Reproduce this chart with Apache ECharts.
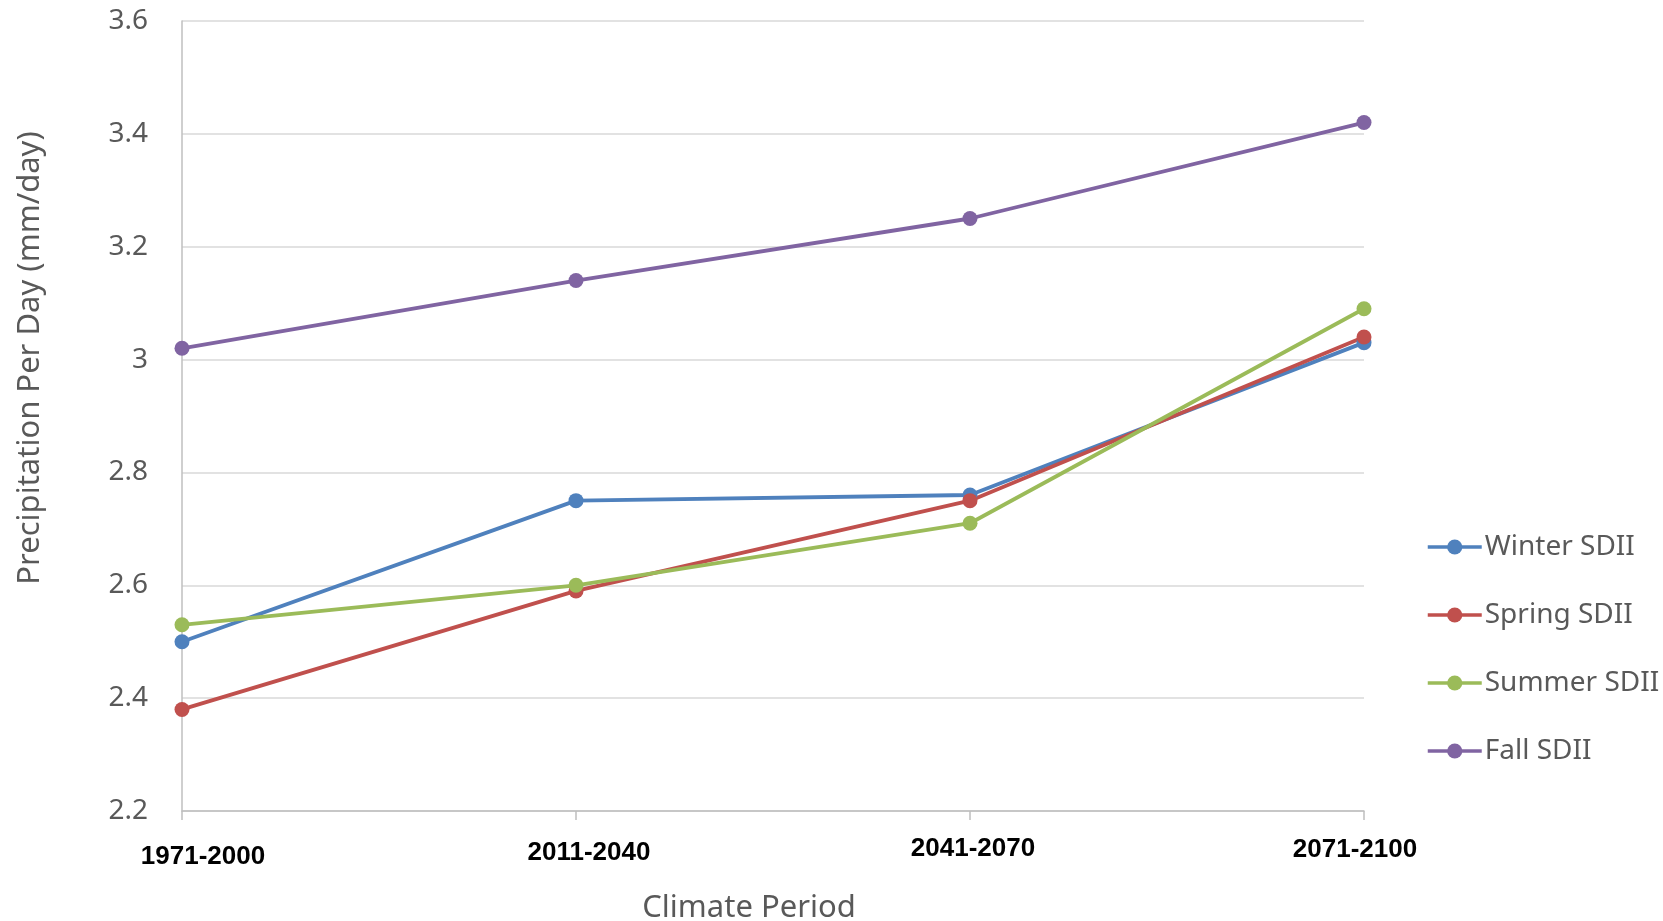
<!DOCTYPE html>
<html>
<head>
<meta charset="utf-8">
<script src="https://cdn.jsdelivr.net/npm/echarts@6/dist/echarts.min.js"></script>
<style>
html,body{margin:0;padding:0;background:#fff;}
#chart{width:1663px;height:921px;}
</style>
</head>
<body>
<div id="chart"></div>
<script>
const categories = ['1971-2000', '2011-2040', '2041-2070', '2071-2100'];
const winterSDII = [2.50, 2.75, 2.76, 3.03];
const springSDII = [2.38, 2.59, 2.75, 3.04];
const summerSDII = [2.53, 2.60, 2.71, 3.09];
const fallSDII   = [3.02, 3.14, 3.25, 3.42];
const seriesNames = ['Winter SDII', 'Spring SDII', 'Summer SDII', 'Fall SDII'];
const colors = ['#4F81BD', '#C0504D', '#9BBB59', '#8064A2'];

// small per-label offsets to mimic the reference label placement
const labelPads = [[8, 0, 0, 42], [4, 0, 0, 26], [0, 0, 0, 6], [1, 18, 0, 0]];

const chart = echarts.init(document.getElementById('chart'));
const mkSeries = (name, data, color) => ({
  name, type: 'line', data,
  symbol: 'circle', symbolSize: 15,
  lineStyle: { width: 3.8, color },
  itemStyle: { color },
  emphasis: { disabled: true }
});

chart.setOption({
  animation: false,
  color: colors,
  grid: { left: 182, right: 299, top: 21, bottom: 110, containLabel: false, outerBoundsMode: 'none' },
  legend: {
    orient: 'vertical',
    left: 1421, top: 528,
    itemWidth: 54, itemHeight: 19, itemGap: 40,
    lineStyle: { width: 3.5 },
    textStyle: { fontFamily: 'Noto Sans', fontSize: 28, color: '#595959', lineHeight: 28, padding: [0, 0, 0, -2] },
    data: seriesNames
  },
  xAxis: {
    type: 'category',
    boundaryGap: false,
    data: categories.map((c, i) => ({ value: c, textStyle: { padding: labelPads[i] } })),
    name: 'Climate Period',
    nameLocation: 'middle',
    nameGap: 82,
    nameTextStyle: { fontFamily: 'Noto Sans', fontSize: 31, color: '#595959', padding: [0, 48, 0, 0] },
    axisLine: { lineStyle: { color: '#BFBFBF', width: 1.5 } },
    axisTick: { show: true, length: 9, lineStyle: { color: '#BFBFBF', width: 1.5 } },
    axisLabel: { margin: 25, fontFamily: 'Liberation Sans', fontWeight: 'bold', fontSize: 26, color: '#000', lineHeight: 26 },
    splitLine: { show: false }
  },
  yAxis: {
    type: 'value',
    min: 2.2, max: 3.6, interval: 0.2,
    name: 'Precipitation Per Day (mm/day)',
    nameLocation: 'middle',
    nameGap: 136,
    nameTextStyle: { fontFamily: 'Noto Sans', fontSize: 31, color: '#595959', padding: [0, 0, 0, 116] },
    axisLine: { show: true, lineStyle: { color: '#BFBFBF', width: 1.5 } },
    axisTick: { show: false },
    axisLabel: {
      margin: 34, fontFamily: 'Noto Sans', fontSize: 28, color: '#595959',
      formatter: v => String(Math.round(v * 10) / 10)
    },
    splitLine: { lineStyle: { color: '#D9D9D9', width: 1.5 } }
  },
  series: [
    mkSeries(seriesNames[0], winterSDII, colors[0]),
    mkSeries(seriesNames[1], springSDII, colors[1]),
    mkSeries(seriesNames[2], summerSDII, colors[2]),
    mkSeries(seriesNames[3], fallSDII, colors[3])
  ]
});
</script>
</body>
</html>
